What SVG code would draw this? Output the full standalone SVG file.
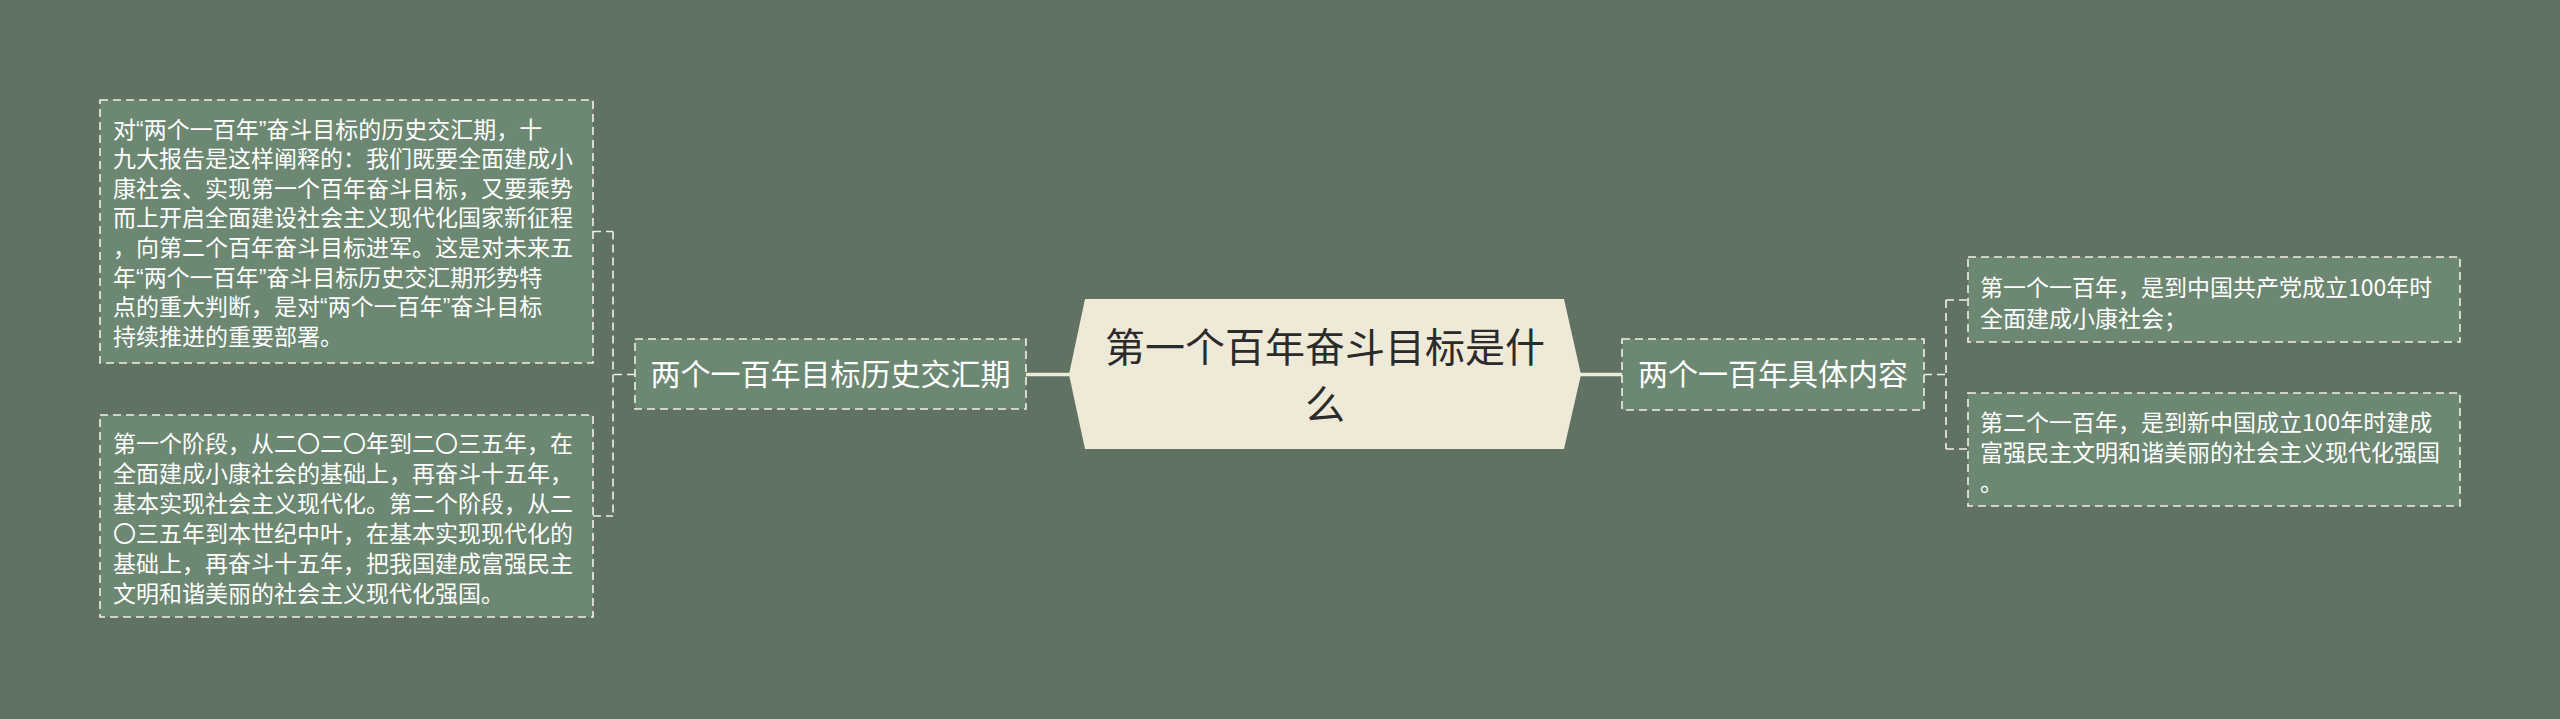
<svg xmlns="http://www.w3.org/2000/svg" width="2560" height="719" viewBox="0 0 2560 719">
<style>
.bg{fill:#607262}
.box{fill:#6c8872;stroke:#f2f0e6;stroke-width:1.6;stroke-dasharray:8 5}
.dash{fill:none;stroke:#f2f0e6;stroke-width:1.6;stroke-dasharray:8 5}
.main{fill:none;stroke:#efead8;stroke-width:3.5}
.t{font-family:"Noto Sans CJK SC","Noto Sans",sans-serif;fill:#ffffff}
.s{font-size:23px}
.b{font-size:30px}
.q{font-family:"Liberation Sans",sans-serif}
.c{font-family:"Noto Sans CJK SC","Noto Sans",sans-serif;font-size:40px;fill:#2b2b2b}
</style>
<rect class="bg" x="0" y="0" width="2560" height="719"/>
<g id="connectors">
<line class="main" x1="1026" y1="374.5" x2="1070" y2="374.5"/>
<line class="main" x1="1580" y1="374.5" x2="1622" y2="374.5"/>
<path class="dash" d="M635 374.5 H613 M613 231.5 V516 M593 231.5 H613 M593 516 H613"/>
<path class="dash" d="M1924 374.5 H1946 M1946 300 V449 M1946 300 H1968 M1946 449 H1968"/>
</g>
<g id="central">
<polygon points="1085,299 1564,299 1581,374.5 1564,449 1085,449 1069,374.5" fill="#efe9d8"/>
<text class="c" x="1325" y="362" text-anchor="middle">第一个百年奋斗目标是什</text>
<text class="c" x="1325" y="419" text-anchor="middle">么</text>
</g>
<g id="branch-left">
<rect class="box" x="635" y="339" width="391" height="70"/>
<text class="t b" x="830.5" y="385" text-anchor="middle">两个一百年目标历史交汇期</text>
</g>
<g id="branch-right">
<rect class="box" x="1622" y="339" width="302" height="71"/>
<text class="t b" x="1773" y="385" text-anchor="middle">两个一百年具体内容</text>
</g>
<g id="leaf-left-1">
<rect class="box" x="100" y="100" width="493" height="263"/>
<text class="t s" x="113" y="137.5">对<tspan class="q">“</tspan>两个一百年<tspan class="q">”</tspan>奋斗目标的历史交汇期，十</text>
<text class="t s" x="113" y="167.1">九大报告是这样阐释的：我们既要全面建成小</text>
<text class="t s" x="113" y="196.7">康社会、实现第一个百年奋斗目标，又要乘势</text>
<text class="t s" x="113" y="226.3">而上开启全面建设社会主义现代化国家新征程</text>
<text class="t s" x="113" y="255.9">，向第二个百年奋斗目标进军。这是对未来五</text>
<text class="t s" x="113" y="285.5">年<tspan class="q">“</tspan>两个一百年<tspan class="q">”</tspan>奋斗目标历史交汇期形势特</text>
<text class="t s" x="113" y="315.1">点的重大判断，是对<tspan class="q">“</tspan>两个一百年<tspan class="q">”</tspan>奋斗目标</text>
<text class="t s" x="113" y="344.7">持续推进的重要部署。</text>
</g>
<g id="leaf-left-2">
<rect class="box" x="100" y="415" width="493" height="202"/>
<text class="t s" x="113" y="452">第一个阶段，从二〇二〇年到二〇三五年，在</text>
<text class="t s" x="113" y="482">全面建成小康社会的基础上，再奋斗十五年，</text>
<text class="t s" x="113" y="512">基本实现社会主义现代化。第二个阶段，从二</text>
<text class="t s" x="113" y="542">〇三五年到本世纪中叶，在基本实现现代化的</text>
<text class="t s" x="113" y="572">基础上，再奋斗十五年，把我国建成富强民主</text>
<text class="t s" x="113" y="602">文明和谐美丽的社会主义现代化强国。</text>
</g>
<g id="leaf-right-1">
<rect class="box" x="1968" y="257" width="492" height="85"/>
<text class="t s" x="1980" y="296">第一个一百年，是到中国共产党成立100年时</text>
<text class="t s" x="1980" y="327">全面建成小康社会；</text>
</g>
<g id="leaf-right-2">
<rect class="box" x="1968" y="393" width="492" height="113"/>
<text class="t s" x="1980" y="431">第二个一百年，是到新中国成立100年时建成</text>
<text class="t s" x="1980" y="461">富强民主文明和谐美丽的社会主义现代化强国</text>
<text class="t s" x="1980" y="491">。</text>
</g>
</svg>
